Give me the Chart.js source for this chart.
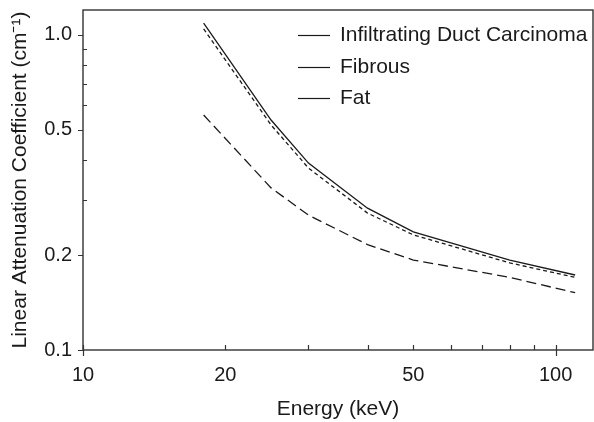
<!DOCTYPE html>
<html>
<head>
<meta charset="utf-8">
<script src="https://cdn.jsdelivr.net/npm/chart.js@4"></script>
<style>
  html, body { margin: 0; padding: 0; background: #fff; }
  #wrap { width: 594px; height: 422px; }
</style>
</head>
<body>
<div id="wrap"><canvas id="attenChart" width="594" height="422"></canvas></div>
<script>
// Energy (keV) sample points
const energies = [18, 25, 30, 40, 50, 80, 110];
// Linear attenuation coefficient (cm^-1)
const carcinoma = [1.09, 0.537, 0.392, 0.282, 0.237, 0.193, 0.173];
const fibrous = [1.045, 0.518, 0.378, 0.272, 0.232, 0.189, 0.170];
const fat = [0.557, 0.327, 0.268, 0.216, 0.193, 0.170, 0.152];

const seriesLabels = ['Infiltrating Duct Carcinoma', 'Fibrous', 'Fat'];

// Axis ticks
const xTicks = [10, 20, 30, 40, 50, 60, 70, 80, 90, 100];
const xTickLabels = [10, 20, 50, 100];
const yTicks = [0.1, 0.2, 0.3, 0.4, 0.5, 0.6, 0.7, 0.8, 0.9, 1.0];
const yTickLabels = [0.1, 0.2, 0.5, 1.0];

const INK = '#1a1a1a';
const FONT = "'Liberation Sans', Arial, Helvetica, sans-serif";

function toPoints(ys) {
    return energies.map((e, i) => ({ x: e, y: ys[i] }));
}

// draws the frame, tick marks and the legend
const framePlugin = {
    id: 'frame',
    afterDraw(chart) {
        const ctx = chart.ctx;
        const area = chart.chartArea;
        const xs = chart.scales.x;
        const ys = chart.scales.y;

        ctx.save();
        ctx.strokeStyle = '#333';
        ctx.lineWidth = 1.4;
        ctx.strokeRect(area.left, area.top, area.right - area.left, area.bottom - area.top);

        ctx.lineWidth = 1.2;
        ctx.beginPath();
        xs.ticks.forEach(t => {
            const px = Math.round(xs.getPixelForValue(t.value)) + 0.5;
            ctx.moveTo(px, area.bottom);
            ctx.lineTo(px, area.bottom - 5);
            if (Number.isInteger(Math.log10(t.value))) {
                ctx.moveTo(px, area.bottom);
                ctx.lineTo(px, area.bottom + 6);
            }
        });
        ys.ticks.forEach(t => {
            const py = Math.round(ys.getPixelForValue(t.value)) + 0.5;
            ctx.moveTo(area.left, py);
            if (yTickLabels.includes(t.value)) {
                ctx.lineTo(area.left - 5, py);
            } else {
                ctx.lineTo(area.left + 4, py);
            }
        });
        ctx.stroke();

        // legend: all samples drawn as solid lines
        const lx = area.left + 215;
        ctx.font = '21px ' + FONT;
        ctx.fillStyle = INK;
        ctx.textBaseline = 'middle';
        ctx.textAlign = 'left';
        chart.data.datasets.forEach((ds, i) => {
            const ly = Math.round(area.top + 25 + i * 31.5) + 0.5;
            ctx.strokeStyle = INK;
            ctx.lineWidth = 1.2;
            ctx.beginPath();
            ctx.moveTo(lx, ly);
            ctx.lineTo(lx + 32, ly);
            ctx.stroke();
            ctx.fillText(ds.label, lx + 42, ly);
        });
        ctx.restore();
    }
};

const ctx = document.getElementById('attenChart').getContext('2d');
new Chart(ctx, {
    type: 'line',
    data: {
        datasets: [
            {
                label: seriesLabels[0],
                data: toPoints(carcinoma),
                borderColor: INK,
                borderWidth: 1.3,
                pointRadius: 0,
                tension: 0
            },
            {
                label: seriesLabels[1],
                data: toPoints(fibrous),
                borderColor: INK,
                borderWidth: 1.3,
                borderDash: [4, 3],
                pointRadius: 0,
                tension: 0
            },
            {
                label: seriesLabels[2],
                data: toPoints(fat),
                borderColor: INK,
                borderWidth: 1.3,
                borderDash: [10, 5],
                pointRadius: 0,
                tension: 0
            }
        ]
    },
    options: {
        responsive: false,
        animation: false,
        layout: { padding: { top: 10, right: 1, left: 0, bottom: 0 } },
        plugins: {
            legend: { display: false },
            tooltip: { enabled: false }
        },
        scales: {
            x: {
                type: 'logarithmic',
                min: 10,
                max: 120,
                afterBuildTicks: scale => {
                    scale.ticks = xTicks.map(v => ({ value: v }));
                },
                afterFit: scale => {
                    scale.height = 72;
                    scale.paddingLeft = 0;
                    scale.paddingRight = 0;
                },
                border: { display: false },
                grid: { drawOnChartArea: false, drawTicks: false },
                ticks: {
                    autoSkip: false,
                    maxRotation: 0,
                    padding: 13,
                    color: INK,
                    font: { family: FONT, size: 20 },
                    callback: v => xTickLabels.includes(v) ? String(v) : ''
                },
                title: {
                    display: true,
                    text: 'Energy (keV)',
                    color: INK,
                    font: { family: FONT, size: 21 },
                    padding: { top: 0, bottom: 0 }
                }
            },
            y: {
                type: 'logarithmic',
                min: 0.1,
                max: 1.2,
                afterBuildTicks: scale => {
                    scale.ticks = yTicks.map(v => ({ value: v }));
                },
                afterFit: scale => {
                    scale.width = 83;
                    scale.paddingTop = 0;
                    scale.paddingBottom = 0;
                },
                border: { display: false },
                grid: { drawOnChartArea: false, drawTicks: false },
                ticks: {
                    autoSkip: false,
                    padding: 11,
                    color: INK,
                    font: { family: FONT, size: 20 },
                    callback: v => yTickLabels.includes(v) ? v.toFixed(1) : ''
                },
                title: {
                    display: true,
                    text: 'Linear Attenuation Coefficient (cm\u207B\u00B9)',
                    color: INK,
                    font: { family: FONT, size: 21 },
                    padding: { top: 8, bottom: 0 }
                }
            }
        }
    },
    plugins: [framePlugin]
});
</script>
</body>
</html>
